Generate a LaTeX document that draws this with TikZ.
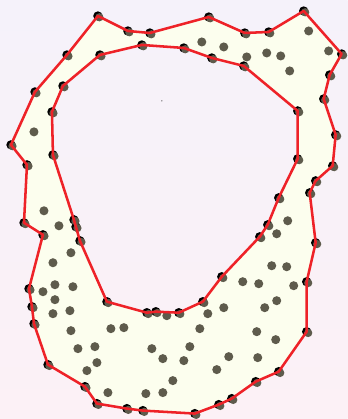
\documentclass[tikz,border=0pt]{standalone}
\usepackage{tikz}
\usepackage{xcolor}
\definecolor{bgtop}{RGB}{245,242,250}
\definecolor{bgbottom}{RGB}{252,241,246}
\definecolor{regionfill}{RGB}{252,254,238}
\definecolor{edgered}{RGB}{238,34,40}
\definecolor{ptgray}{RGB}{94,91,76}

\def\outerlist{(98,16),(128,31),(150,33),(209,17),(245,33),(269,32),(304,11),(342,54),(330,75),(324,99),(336,135),(333,166),(316,181),(310,193),(316,243),(307,282),(307,332),(279,372),(256,382),(232,399),(219,405),(195,414),(143,411),(127,409),(97,404),(85,387),(48,365),(34,324),(32,307),(29,289),(43,235),(24,223),(27,165),(11,145),(35,92),(67,55)}
\def\innerlist{(100,55),(142,45),(184,48),(212,58),(244,66),(298,111),(298,159),(279,198),(268,225),(260,237),(222,277),(203,302),(179,313),(156,312),(147,313),(107,302),(80,241),(76,227),(74,220),(53,155),(52,112),(63,86)}
\def\samplelist{(34,132),(202,42),(224,47),(247,57),(267,53),(281,56),(290,71),(309,31),(329,51),(44,211),(59,226),(71,253),(53,263),(55,285),(73,287),(43,292),(55,300),(53,314),(70,311),(71,331),(111,329),(124,328),(78,349),(95,347),(97,363),(87,371),(108,393),(146,394),(163,393),(152,349),(163,359),(173,381),(167,316),(208,314),(224,308),(200,329),(243,282),(259,284),(294,286),(277,301),(265,308),(257,332),(276,340),(190,347),(229,357),(258,358),(184,361),(217,370),(288,221),(277,234),(272,266),(287,267)}

\begin{document}
\begin{tikzpicture}[
    x=0.75pt, y=-0.75pt,
    region/.style={fill=regionfill, even odd rule},
    edge/.style={draw=edgered, line width=1.9pt, line join=round},
    vertexdot/.style={fill=black},
    sampledot/.style={fill=ptgray}
]
    \shade[top color=bgtop, bottom color=bgbottom] (0,0) rectangle (348,419);

    \fill[region] (98,16) \foreach \p in \outerlist {-- \p} -- cycle
        (100,55) \foreach \p in \innerlist {-- \p} -- cycle;

    \foreach \p in \samplelist
        \fill[sampledot] \p circle[radius=3.4pt];
    \foreach \p in \outerlist {
        \fill[vertexdot] \p circle[radius=3.5pt];
        \fill[sampledot, shift={(1.5,1.3)}] \p circle[radius=3.1pt];
    }
    \foreach \p in \innerlist {
        \fill[vertexdot] \p circle[radius=3.5pt];
        \fill[sampledot, shift={(1.5,1.3)}] \p circle[radius=3.1pt];
    }
    \fill[black!70] (162,101) circle[radius=0.5pt];

    \draw[edge] (98,16) \foreach \p in \outerlist {-- \p} -- cycle;
    \draw[edge] (100,55) \foreach \p in \innerlist {-- \p} -- cycle;
\end{tikzpicture}
\end{document}
